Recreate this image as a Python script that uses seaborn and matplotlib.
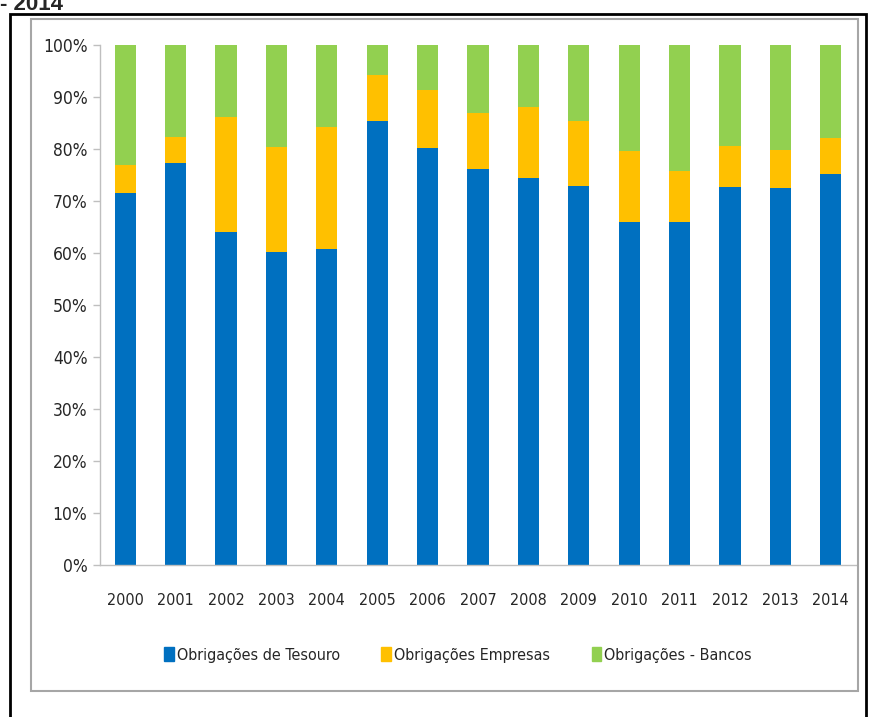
import numpy as np
import pandas as pd
import matplotlib.pyplot as plt
import matplotlib.patches as mpatches
import seaborn as sns

years = ['2000', '2001', '2002', '2003', '2004', '2005', '2006', '2007',
         '2008', '2009', '2010', '2011', '2012', '2013', '2014']
tesouro = [71.6, 77.4, 64.1, 60.1, 60.7, 85.4, 80.2, 76.2, 74.5, 72.9, 66.0, 66.0, 72.7, 72.5, 75.2]
empresas = [5.4, 4.9, 22.1, 20.3, 23.6, 8.8, 11.2, 10.7, 13.6, 12.5, 13.7, 9.8, 7.9, 7.3, 6.9]
bancos = [23.0, 17.7, 13.8, 19.6, 15.7, 5.8, 8.6, 13.1, 11.9, 14.6, 20.3, 24.2, 19.4, 20.2, 17.9]
series_names = ['Obrigações de Tesouro', 'Obrigações Empresas', 'Obrigações - Bancos']

blue = '#0070C0'
orange = '#FFC000'
green = '#92D050'

df = pd.DataFrame({'Ano': years, 'tesouro': tesouro, 'empresas': empresas, 'bancos': bancos})
df['top_emp'] = df['tesouro'] + df['empresas']
df['top_all'] = df['top_emp'] + df['bancos']

sns.set_style('white')
plt.rcParams['font.family'] = ['DejaVu Sans']
plt.rcParams['font.stretch'] = 'condensed'

fig = plt.figure(figsize=(8.7, 7.17), dpi=100)
ax = fig.add_axes([100 / 870, 1 - 565 / 717, 756 / 870, 520 / 717])

# stacked bars: draw cumulative totals from back to front
sns.barplot(data=df, x='Ano', y='top_all', color=green, width=0.42, ax=ax, saturation=1, linewidth=0)
sns.barplot(data=df, x='Ano', y='top_emp', color=orange, width=0.42, ax=ax, saturation=1, linewidth=0)
sns.barplot(data=df, x='Ano', y='tesouro', color=blue, width=0.42, ax=ax, saturation=1, linewidth=0)

ax.set_ylim(0, 100)
ax.set_xlim(-0.5, len(years) - 0.5)
ax.set_yticks(np.arange(0, 101, 10))
ax.set_yticklabels([f'{v}%' for v in range(0, 101, 10)], fontsize=12.5, color='#262626')
ax.set_xticks(range(len(years)))
ax.set_xticklabels(years, fontsize=11.5, color='#262626')
ax.set_xticks(np.arange(-0.5, len(years), 1), minor=True)
ax.tick_params(axis='x', which='major', length=0, pad=20)
ax.tick_params(axis='x', which='minor', length=7, color='#BFBFBF', width=1, direction='out')
ax.tick_params(axis='y', length=5, color='#BFBFBF', width=1, direction='out', pad=4, left=True)
ax.set_xlabel('')
ax.set_ylabel('')
for side in ['top', 'right']:
    ax.spines[side].set_visible(False)
for side in ['left', 'bottom']:
    ax.spines[side].set_color('#BFBFBF')
    ax.spines[side].set_linewidth(1)

handles = [mpatches.Patch(color=c, label=n) for c, n in zip([blue, orange, green], series_names)]
leg = fig.legend(handles=handles, loc='center', bbox_to_anchor=(458 / 870, 1 - 655 / 717), ncol=3,
                 frameon=False, fontsize=11.5, handlelength=0.6, handleheight=0.9,
                 handletextpad=0.2, columnspacing=2.6)
for t in leg.get_texts():
    t.set_color('#262626')

# outer black frame and inner gray chart frame
fig.patches.append(mpatches.Rectangle((10 / 870, -0.01), 856 / 870, 1 - 14 / 717 + 0.01,
                                      transform=fig.transFigure, fill=False,
                                      edgecolor='black', linewidth=2))
fig.patches.append(mpatches.Rectangle((31 / 870, 1 - 691 / 717), 827 / 870, 672 / 717,
                                      transform=fig.transFigure, fill=False,
                                      edgecolor='#A6A6A6', linewidth=1.5))

fig.text(0.0, 1 - 10 / 717, '- 2014', fontsize=16, fontweight='bold',
         family=['Liberation Sans', 'DejaVu Sans'], stretch='normal', ha='left', va='baseline')

fig.savefig('out.png', dpi=100)
